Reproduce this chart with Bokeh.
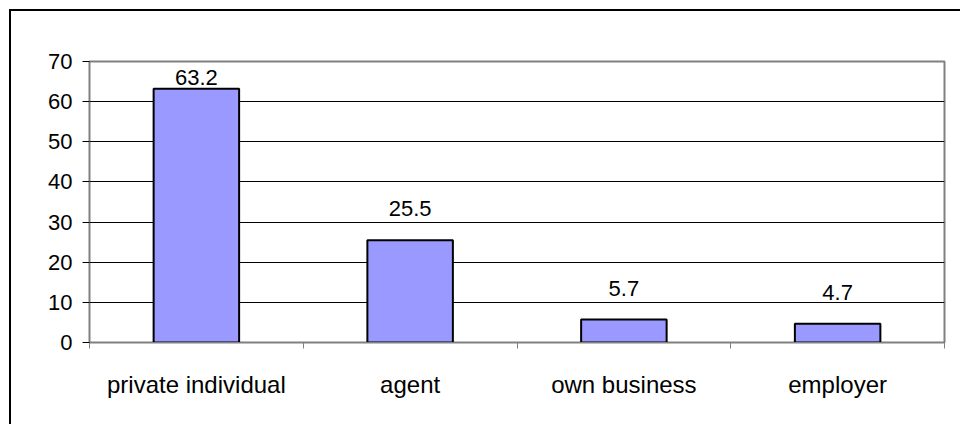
from bokeh.plotting import figure
from bokeh.models import ColumnDataSource, FixedTicker, LabelSet, Range1d
from bokeh.core.properties import value
from bokeh.embed import file_html
from bokeh.resources import INLINE

categories = ["private individual", "agent", "own business", "employer"]
values = [63.2, 25.5, 5.7, 4.7]
value_labels = ["63.2", "25.5", "5.7", "4.7"]
y_ticks = [0, 10, 20, 30, 40, 50, 60, 70]

FONT = "Liberation Sans"
Y_MAX = 70
FRAME_H = 281
PX_PER_UNIT = FRAME_H / Y_MAX

xpos = [i + 0.5 for i in range(len(categories))]
# label offset above bar, kept inside the plot area (as the original does)
offsets = [min(24, (Y_MAX - v) * PX_PER_UNIT - 23) for v in values]
src = ColumnDataSource(dict(x=xpos, top=values, label=value_labels, cat=categories, off=offsets))

# outer chart-area border drawn with CSS (left and top edges visible in the original)
p = figure(width=951, height=415, output_backend="svg", toolbar_location=None,
           x_range=Range1d(0, len(categories)), y_range=Range1d(0, Y_MAX),
           min_border_left=78, min_border_right=18, min_border_top=50, min_border_bottom=84,
           margin=(9, 0, 0, 9),
           styles={"border-left": "2px solid black", "border-top": "2px solid black"})
p.background_fill_color = "white"
p.border_fill_color = "white"
p.outline_line_color = "#808080"
p.outline_line_width = 2

p.vbar(x="x", top="top", bottom=0, width=0.4, source=src,
       fill_color="#9999FF", line_color="black", line_width=2)

labels = LabelSet(x="x", y="top", text="label", source=src, y_offset="off",
                  text_align="center", text_baseline="alphabetic",
                  text_font=value(FONT), text_font_size="22px", text_color="black")
p.add_layout(labels)

p.xgrid.visible = False
p.ygrid.grid_line_color = "black"
p.ygrid.grid_line_width = 1

ya = p.yaxis[0]
ya.ticker = FixedTicker(ticks=y_ticks)
ya.axis_line_color = "#808080"
ya.axis_line_width = 1
ya.major_tick_line_color = "black"
ya.major_tick_out = 7
ya.major_tick_in = 0
ya.minor_tick_line_color = None
ya.major_label_text_font = FONT
ya.major_label_text_font_size = "22px"
ya.major_label_text_color = "black"
ya.major_label_standoff = 10

xa = p.xaxis[0]
xa.ticker = FixedTicker(ticks=xpos, minor_ticks=list(range(len(categories) + 1)))
xa.major_label_overrides = {x: c for x, c in zip(xpos, categories)}
xa.axis_line_color = "#808080"
xa.major_tick_line_color = None
xa.major_tick_out = 0
xa.major_tick_in = 0
xa.minor_tick_line_color = "#808080"
xa.minor_tick_out = 6
xa.minor_tick_in = 0
xa.major_label_text_font = FONT
xa.major_label_text_font_size = "24px"
xa.major_label_text_color = "black"
xa.major_label_standoff = 22

open("out.html", "w").write(file_html(p, INLINE))
